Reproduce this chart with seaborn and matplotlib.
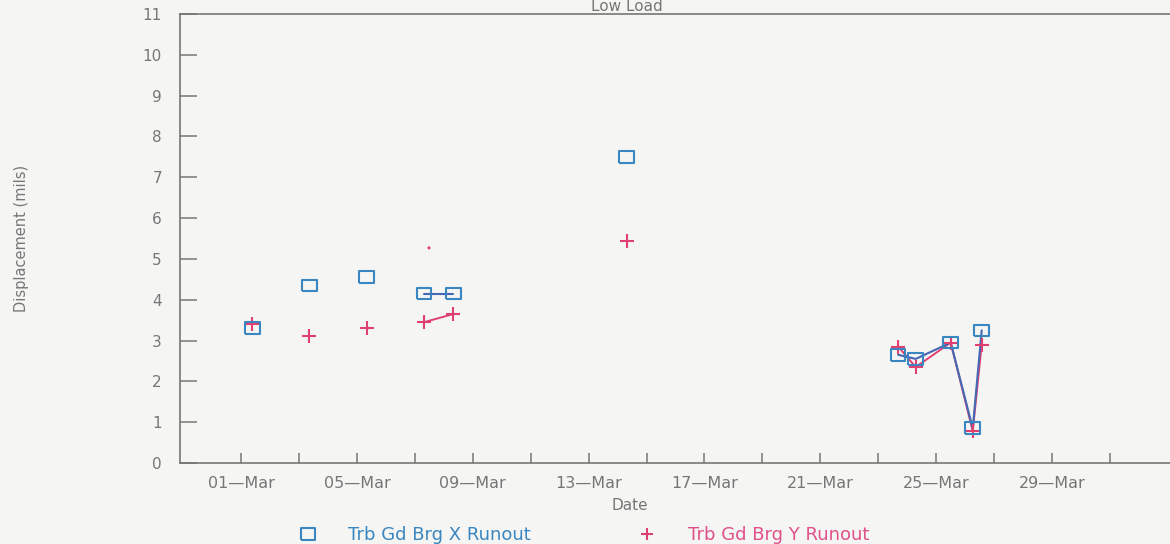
import matplotlib
matplotlib.use("Agg")
import matplotlib.pyplot as plt
import matplotlib.dates as mdates
from matplotlib.lines import Line2D
import seaborn as sns
import pandas as pd

# ---------------- data ----------------
dates = ["1996-03-01 09:30", "1996-03-03 08:40", "1996-03-05 08:10",
         "1996-03-07 07:40", "1996-03-08 08:00", "1996-03-14 07:30",
         "1996-03-23 16:30", "1996-03-24 07:00", "1996-03-25 12:00",
         "1996-03-26 06:15", "1996-03-26 13:40"]
x_runout = [3.3, 4.35, 4.55, 4.15, 4.15, 7.5, 2.65, 2.55, 2.95, 0.85, 3.25]
y_runout = [3.4, 3.1, 3.3, 3.45, 3.65, 5.45, 2.85, 2.35, 2.95, 0.78, 2.9]
segment = [0, 1, 2, 3, 3, 4, 5, 5, 5, 5, 5]
stray_dates = ["1996-03-07 11:45"]
stray_vals = [5.27]
y_ticks = list(range(0, 12))
x_label_days = ["1996-03-01", "1996-03-05", "1996-03-09", "1996-03-13",
                "1996-03-17", "1996-03-21", "1996-03-25", "1996-03-29"]
x_minor_days = ["1996-03-03", "1996-03-07", "1996-03-11", "1996-03-15",
                "1996-03-19", "1996-03-23", "1996-03-27", "1996-03-31"]
label_x = "Trb Gd Brg X Runout"
label_y = "Trb Gd Brg Y Runout"

df = pd.DataFrame({"date": pd.to_datetime(dates), "x": x_runout,
                   "y": y_runout, "seg": segment})
dstray = pd.DataFrame({"date": pd.to_datetime(stray_dates), "v": stray_vals})

# ---------------- style ----------------
BG = "#f5f5f3"
GRAY = "#767676"
BLUE = "#3a86c0"
BLUE_LINE = "#4468b4"
PINK = "#e0406f"
PINK_TXT = "#e0508a"

sns.set_theme(style="white")
plt.rcParams["font.family"] = ["DejaVu Sans"]

fig = plt.figure(figsize=(11.7, 5.44), dpi=100, facecolor=BG)
ax = fig.add_axes([180 / 1170, 81 / 544, 990 / 1170, 449 / 544], facecolor=BG)

# lines (broken into segments)
sns.lineplot(data=df, x="date", y="y", units="seg", estimator=None,
             color=PINK, lw=1.4, legend=False, ax=ax)
sns.lineplot(data=df, x="date", y="x", units="seg", estimator=None,
             color=BLUE_LINE, lw=1.5, legend=False, ax=ax)

# markers
rect = [(-1.25, -1), (1.25, -1), (1.25, 1), (-1.25, 1), (-1.25, -1)]
sns.scatterplot(data=df, x="date", y="x", marker=rect, s=110,
                facecolor="none", edgecolor=BLUE, linewidth=1.5, ax=ax, zorder=4)
sns.scatterplot(data=df, x="date", y="y", marker="+", s=90,
                color=PINK, linewidth=1.5, ax=ax, zorder=3)
sns.scatterplot(data=dstray, x="date", y="v", marker="o", s=5,
                color=PINK, edgecolor="none", ax=ax, zorder=3)

# axes limits
x0 = pd.Timestamp("1996-03-01")
ax.set_xlim(x0 - pd.Timedelta(days=2.106), x0 + pd.Timedelta(days=32.07))
ax.set_ylim(0, 11)
ax.set_yticks(y_ticks)

ax.set_xticks(pd.to_datetime(x_label_days))
ax.set_xticks(pd.to_datetime(x_minor_days), minor=True)
ax.xaxis.set_major_formatter(mdates.DateFormatter("%d\u2014%b"))

ax.tick_params(axis="x", which="both", bottom=True, direction="in", length=7,
               width=1.1, color=GRAY, pad=9, labelsize=11.5, labelcolor=GRAY)
ax.tick_params(axis="y", left=True, direction="in", length=12, width=1.1,
               color=GRAY, pad=13, labelsize=11, labelcolor=GRAY)

for side in ["left", "bottom", "top"]:
    ax.spines[side].set_color(GRAY)
    ax.spines[side].set_linewidth(1.2)
ax.spines["right"].set_visible(False)

ax.set_xlabel("Date", fontsize=11, color=GRAY)
ax.xaxis.label.set_va("center")
ax.xaxis.set_label_coords((630 - 180) / 990, (463 - 505) / 449)
ax.set_ylabel("Displacement (mils)", fontsize=10.5, color=GRAY)
ax.yaxis.set_label_coords((22 - 180) / 990, 0.5)
ax.yaxis.label.set_va("center")

fig.text(627 / 1170, 1 - 11 / 544, "Low Load", ha="center", va="baseline",
         fontsize=11, color=GRAY)

handles = [Line2D([], [], ls="none", marker=rect, markersize=10,
                  markerfacecolor="none", markeredgecolor=BLUE, markeredgewidth=1.5),
           Line2D([], [], ls="none", marker="+", markersize=9,
                  color=PINK, markeredgewidth=1.5)]
leg = fig.legend(handles, [label_x, label_y], ncol=2, frameon=False,
                 loc="center left", bbox_to_anchor=(294 / 1170, 1 - 535 / 544),
                 fontsize=13, handlelength=1.5, handletextpad=1.5,
                 columnspacing=5.7, borderpad=0.0, borderaxespad=0.0)
for t, c in zip(leg.get_texts(), [BLUE, PINK_TXT]):
    t.set_color(c)

fig.savefig("out.png", dpi=100, facecolor=BG)
